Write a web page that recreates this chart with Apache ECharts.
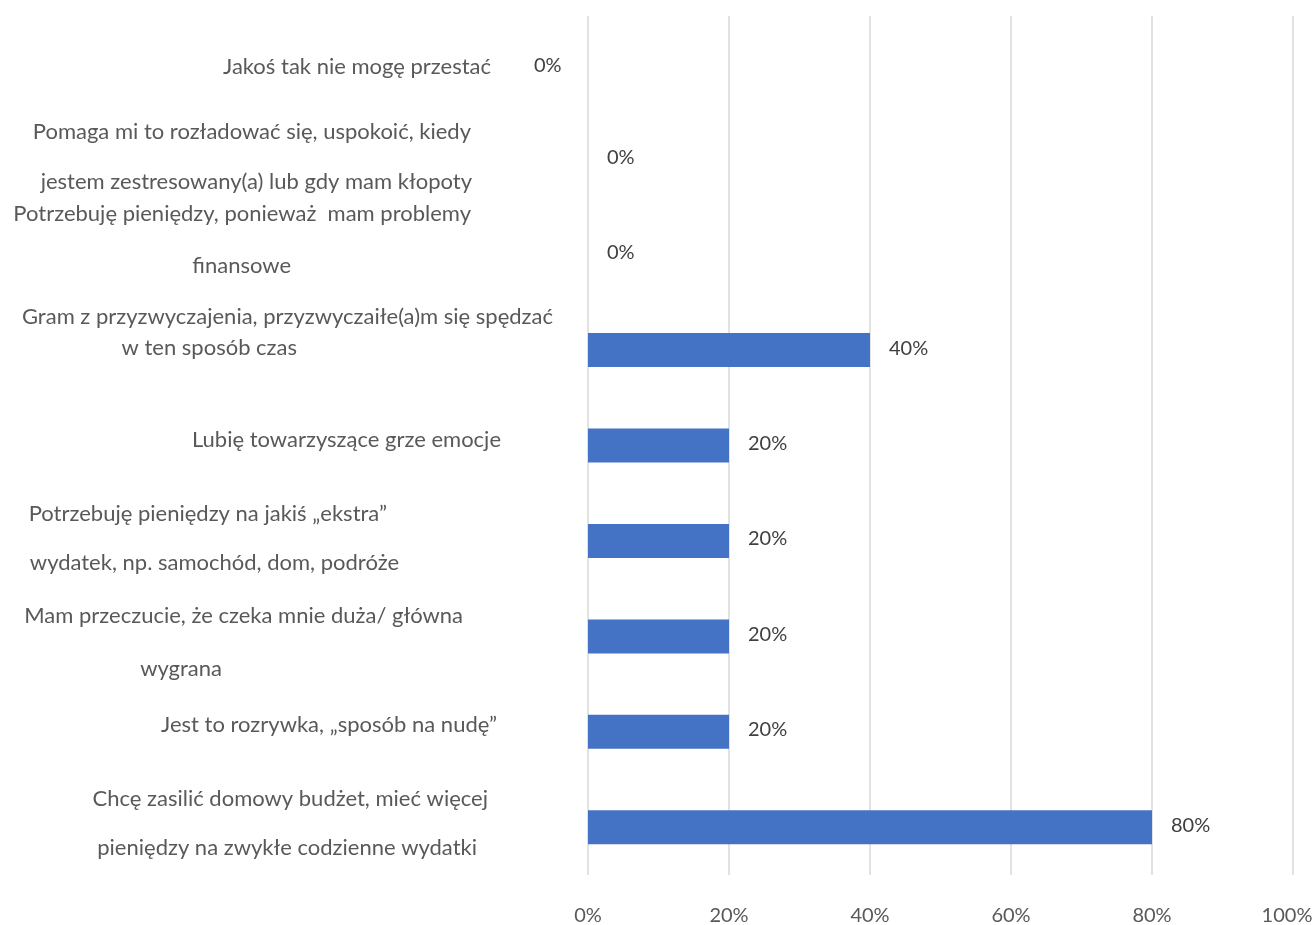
<!DOCTYPE html>
<html><head><meta charset="utf-8">
<script src="https://cdn.jsdelivr.net/npm/echarts@6/dist/echarts.min.js"></script>
<style>html,body{margin:0;padding:0;background:#fff}#c{width:1316px;height:925px}</style>
</head><body><div id="c"></div>
<script>
// ---- data ----
const categories = [
  "Jakoś tak nie mogę przestać",
  "Pomaga mi to rozładować się, uspokoić, kiedy\njestem zestresowany(a) lub gdy mam kłopoty",
  "Potrzebuję pieniędzy, ponieważ  mam problemy\nfinansowe",
  "Gram z przyzwyczajenia, przyzwyczaiłe(a)m się spędzać\nw ten sposób czas",
  "Lubię towarzyszące grze emocje",
  "Potrzebuję pieniędzy na jakiś „ekstra”\nwydatek, np. samochód, dom, podróże",
  "Mam przeczucie, że czeka mnie duża/ główna\nwygrana",
  "Jest to rozrywka, „sposób na nudę”",
  "Chcę zasilić domowy budżet, mieć więcej\npieniędzy na zwykłe codzienne wydatki"
];
const values = [0, 0, 0, 40, 20, 20, 20, 20, 80];
const xTickValues = [0, 20, 40, 60, 80, 100];

// ---- layout (label placement tweaks, not data) ----
const FONT = 'Lato';
const baseRight = 553;
const lineRight = [[491],[471,472],[471,291],[553,297],[501],[387,399],[463,222],[497],[488,477]];
const lineGap = [30,50,52,31,30,49,53,30,49];
const dy = [3,-2,-15,-18,-6,-3,6,-7,-4];

const rich = {};
const yData = categories.map((c, i) => {
  const pad = dy[i] >= 0 ? [2*dy[i],0,0,0] : [0,0,-2*dy[i],0];
  return { value: c, textStyle: { padding: pad } };
});
categories.forEach((c, i) => {
  c.split('\n').forEach((l, j) => {
    rich['l' + i + '_' + j] = {
      fontFamily: FONT, fontSize: 22, color: '#595959',
      lineHeight: lineGap[i],
      padding: [0, baseRight - lineRight[i][j], 0, 0]
    };
  });
});

const chart = echarts.init(document.getElementById('c'));
chart.setOption({
  animation: false,
  grid: { left: 588, right: 23, top: 16, bottom: 50, containLabel: false, outerBoundsMode: 'none' },
  xAxis: {
    type: 'value', min: 0, max: 100, interval: 20,
    axisLine: { show: false }, axisTick: { show: false },
    splitLine: { lineStyle: { color: '#d9d9d9', width: 1.5 } },
    axisLabel: {
      formatter: v => !xTickValues.includes(v) ? '' : (v === 100 ? '{r|' + v + '%}' : v + '%'),
      fontFamily: FONT, fontSize: 20, color: '#595959', margin: 31,
      rich: { r: { fontFamily: FONT, fontSize: 20, color: '#595959', padding: [0, 12, 0, 0] } }
    }
  },
  yAxis: {
    type: 'category', inverse: true, data: yData,
    axisLine: { show: false }, axisTick: { show: false },
    axisLabel: {
      align: 'right', margin: 588 - baseRight,
      formatter: (v, idx) => v.split('\n').map((l, j) => '{l' + idx + '_' + j + '|' + l + '}').join('\n'),
      rich: rich
    }
  },
  series: [{
    type: 'bar', barWidth: 34,
    itemStyle: { color: '#4472C4' },
    data: values.map((v, i) => i === 0 ? { value: v, label: { offset: [-73, 2] } } : v),
    label: {
      show: true, position: 'right', distance: 19, offset: [0, -2],
      formatter: p => p.value + '%',
      fontFamily: FONT, fontSize: 20, color: '#404040'
    }
  }]
});
</script></body></html>
